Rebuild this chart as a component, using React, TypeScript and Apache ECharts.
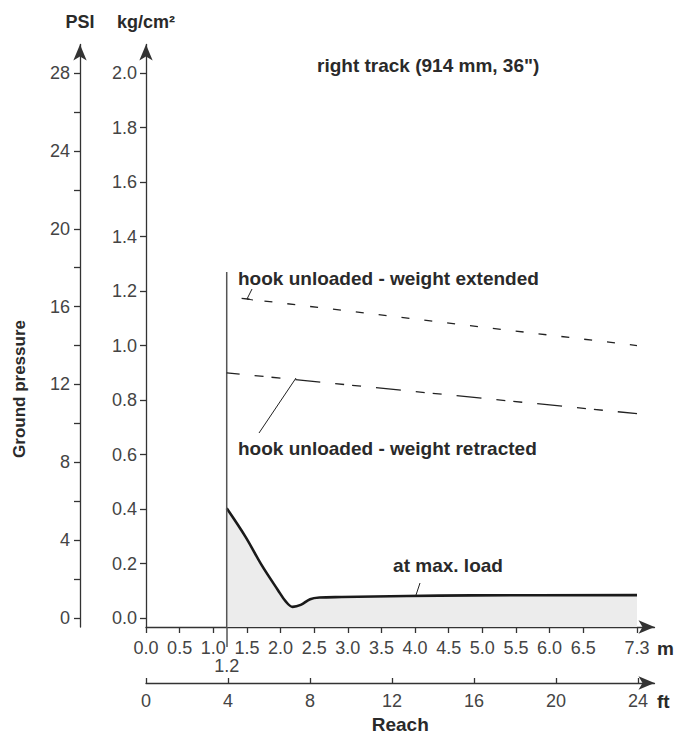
import React, { useEffect, useRef } from "react";
import * as echarts from "echarts";

// Tick values / labels
const mTicks = [0, 0.5, 1.0, 1.5, 2.0, 2.5, 3.0, 3.5, 4.0, 4.5, 5.0, 5.5, 6.0, 6.5, 7.3];
const ftTicks = [0, 4, 8, 12, 16, 20, 24];
const kgTicks = [0, 0.2, 0.4, 0.6, 0.8, 1.0, 1.2, 1.4, 1.6, 1.8, 2.0];
const psiTicks = [0, 2, 4, 6, 8, 10, 12, 14, 16, 18, 20, 22, 24, 26, 28];
const psiLabels = [0, 4, 8, 12, 16, 20, 24, 28];
const minReach = [1.2];

// Series (reach in m, ground pressure in kg/cm²)
const unloadedReach = [1.2, 7.3];
const extendedValues = [1.18, 1.0];
const retractedValues = [0.9, 0.75];
const maxLoadReach = [1.2, 1.48, 1.72, 1.96, 2.08, 2.18, 2.3, 2.44, 2.58, 2.91, 3.88, 4.84, 7.3];
const maxLoadValues = [0.403, 0.298, 0.194, 0.103, 0.06, 0.041, 0.048, 0.069, 0.075, 0.077, 0.081, 0.083, 0.084];
const minReachLineTop = 1.27;

const Y_MIN = -0.033;
const Y_MAX = 2.105;
const X_MAX = 7.56;
const FT_PER_M = 1 / 0.3048;
const PSI_PER_UNIT = 14;

const FONT = "'Liberation Sans', Arial, sans-serif";
const TXT = "#2a2a2a";
const AX = "#333";

export default function App() {
  const ref = useRef<HTMLDivElement>(null);
  useEffect(() => {
    if (!ref.current) return;
    const chart = echarts.init(ref.current, undefined, { renderer: "svg" });
    const zip = (xs: number[], ys: number[]) => xs.map((x, i) => [x, ys[i]]);
    const axisLineStyle = { color: AX, width: 1.3 };
    const tickLabel = { fontFamily: FONT, fontSize: 18, color: "#444" };
    const bold = { fontFamily: FONT, fontSize: 19, fontWeight: "bold", color: TXT };

    chart.setOption({
      animation: false,
      backgroundColor: "#fff",
      grid: {
        left: 146,
        right: 676 - 654.5,
        top: 44.5,
        bottom: 735 - 627,
        containLabel: false,
        outerBoundsMode: "none",
      },
      title: {
        text: 'right track (914 mm, 36")',
        left: 312,
        top: 51,
        textStyle: { ...bold, fontSize: 19 },
      },
      xAxis: [
        {
          type: "value",
          min: 0,
          max: X_MAX,
          position: "bottom",
          splitLine: { show: false },
          axisLine: { onZero: false, lineStyle: axisLineStyle, symbol: ["none", "arrow"], symbolSize: [10, 16] },
          axisTick: { customValues: mTicks, length: 6, lineStyle: axisLineStyle },
          axisLabel: {
            customValues: mTicks,
            margin: 12,
            formatter: (v: number) => v.toFixed(1),
            ...tickLabel,
          },
        },
        {
          type: "value",
          min: 0,
          max: X_MAX * FT_PER_M,
          position: "bottom",
          offset: 56,
          name: "Reach",
          nameLocation: "middle",
          nameGap: 30,
          nameTextStyle: { ...bold, fontSize: 19 },
          splitLine: { show: false },
          axisLine: { onZero: false, lineStyle: axisLineStyle, symbol: ["none", "arrow"], symbolSize: [10, 16] },
          axisTick: { customValues: ftTicks, inside: true, length: 5, lineStyle: axisLineStyle },
          axisLabel: { customValues: ftTicks, margin: 9, ...tickLabel },
        },
        {
          type: "value",
          min: 0,
          max: X_MAX,
          position: "bottom",
          splitLine: { show: false },
          axisLine: { show: false },
          axisTick: { customValues: minReach, length: 29, lineStyle: { color: "#555", width: 1.5 } },
          axisLabel: { customValues: minReach, margin: 30, formatter: (v: number) => v.toFixed(1), ...tickLabel },
        },
      ],
      yAxis: [
        {
          type: "value",
          min: Y_MIN,
          max: Y_MAX,
          position: "left",
          name: "kg/cm²",
          nameGap: 14,
          nameTextStyle: { ...bold, fontSize: 18, align: "center" },
          splitLine: { show: false },
          axisLine: { onZero: false, lineStyle: axisLineStyle, symbol: ["none", "arrow"], symbolSize: [10, 16] },
          axisTick: { customValues: kgTicks, length: 6, lineStyle: axisLineStyle },
          axisLabel: { customValues: kgTicks, margin: 9, formatter: (v: number) => v.toFixed(1), ...tickLabel },
        },
        {
          type: "value",
          min: Y_MIN * PSI_PER_UNIT,
          max: Y_MAX * PSI_PER_UNIT,
          position: "left",
          offset: 66,
          name: "PSI",
          nameGap: 14,
          nameTextStyle: { ...bold, fontSize: 18, align: "center" },
          splitLine: { show: false },
          axisLine: { onZero: false, lineStyle: axisLineStyle, symbol: ["none", "arrow"], symbolSize: [10, 16] },
          axisTick: { customValues: psiTicks, length: 6, lineStyle: axisLineStyle },
          axisLabel: { customValues: psiLabels, margin: 10, ...tickLabel },
        },
      ],
      series: [
        {
          name: "at max. load",
          type: "line",
          data: zip(maxLoadReach, maxLoadValues),
          smooth: 0.35,
          symbol: "none",
          lineStyle: { color: "#1a1a1a", width: 2.6 },
          areaStyle: { color: "#ececec", origin: "start", opacity: 1 },
          z: 2,
        },
        {
          name: "minimum reach",
          type: "line",
          data: [
            [minReach[0], Y_MIN],
            [minReach[0], minReachLineTop],
          ],
          symbol: "none",
          lineStyle: { color: "#555", width: 1.5 },
          z: 3,
        },
        {
          name: "hook unloaded - weight extended",
          type: "line",
          data: zip(unloadedReach, extendedValues),
          symbol: "none",
          lineStyle: { color: "#222", width: 1.3, type: [8, 15], dashOffset: 8 },
          z: 3,
        },
        {
          name: "hook unloaded - weight retracted",
          type: "line",
          data: zip(unloadedReach, retractedValues),
          symbol: "none",
          lineStyle: { color: "#222", width: 1.3, type: [25, 15, 9, 8, 9, 15], dashOffset: 12 },
          z: 3,
        },
      ],
      graphic: [
        {
          type: "text",
          x: 19,
          y: 389,
          rotation: Math.PI / 2,
          style: {
            text: "Ground pressure",
            fill: TXT,
            font: `bold 17px ${FONT}`,
            align: "center",
            verticalAlign: "middle",
          },
        },
        {
          type: "text",
          x: 657,
          y: 648,
          style: { text: "m", fill: TXT, font: `bold 19px ${FONT}`, align: "left", verticalAlign: "middle" },
        },
        {
          type: "text",
          x: 657,
          y: 701,
          style: { text: "ft", fill: TXT, font: `bold 19px ${FONT}`, align: "left", verticalAlign: "middle" },
        },
        {
          type: "text",
          x: 238,
          y: 278,
          style: {
            text: "hook unloaded - weight extended",
            fill: TXT,
            font: `bold 19px ${FONT}`,
            align: "left",
            verticalAlign: "middle",
          },
        },
        {
          type: "text",
          x: 238,
          y: 448,
          style: {
            text: "hook unloaded - weight retracted",
            fill: TXT,
            font: `bold 19px ${FONT}`,
            align: "left",
            verticalAlign: "middle",
          },
        },
        {
          type: "text",
          x: 448,
          y: 565,
          style: { text: "at max. load", fill: TXT, font: `bold 19px ${FONT}`, align: "center", verticalAlign: "middle" },
        },
        {
          type: "polyline",
          shape: { points: [[252, 289], [247, 299], [253, 300]] },
          style: { stroke: "#222", lineWidth: 1, fill: "none" },
        },
        {
          type: "line",
          shape: { x1: 259, y1: 433, x2: 296, y2: 378 },
          style: { stroke: "#222", lineWidth: 1 },
        },
        {
          type: "line",
          shape: { x1: 420, y1: 583, x2: 416, y2: 595 },
          style: { stroke: "#222", lineWidth: 1 },
        },
      ],
    });
    return () => chart.dispose();
  }, []);
  return (
    <div
      ref={ref}
      style={{ position: "fixed", left: 0, top: 0, width: 676, height: 735, background: "#fff" }}
    />
  );
}
